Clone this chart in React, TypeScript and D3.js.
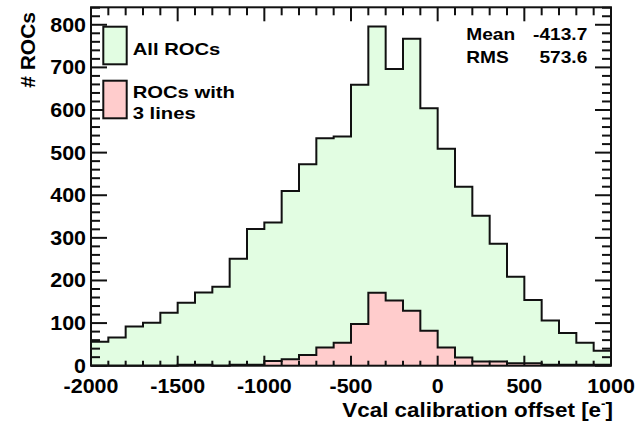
import React from 'react';
import * as d3 from 'd3';

// bin lower edges, width 100
const binEdges = d3.range(-2000, 1000, 100);
const allRocs = [56, 66, 92, 101, 124, 148, 172, 185, 251, 321, 336, 410, 473, 534, 538,
  659, 796, 696, 767, 604, 509, 420, 352, 286, 209, 154, 106, 77, 54, 35];
const rocs3Lines = [0, 0, 0, 0, 0, 2, 2, 0, 2, 2, 11, 15, 25, 43, 54,
  98, 171, 153, 129, 82, 43, 19, 10, 10, 6, 6, 2, 2, 2, 2];
const xMajor = [-2000, -1500, -1000, -500, 0, 500, 1000];
const yMajor = [0, 100, 200, 300, 400, 500, 600, 700, 800];
const stats = [['Mean', '-413.7'], ['RMS', '573.6']];

const W = 638, H = 423;
const frame = {left: 91, right: 611, top: 7.3, bottom: 365.7};
const font = '"Liberation Sans", Arial, Helvetica, sans-serif';

export default function App() {
  const x = d3.scaleLinear().domain([-2000, 1000]).range([frame.left, frame.right]);
  const y = d3.scaleLinear().domain([0, 841]).range([frame.bottom, frame.top]);

  const area = d3.area<[number, number]>()
    .x(d => x(d[0])).y0(y(0)).y1(d => y(d[1])).curve(d3.curveStepAfter);
  const line = d3.line<[number, number]>()
    .x(d => x(d[0])).y(d => y(d[1])).curve(d3.curveStepAfter);

  const hist = (vals: number[], fill: string) => {
    const pts: [number, number][] = binEdges.map((e, i) => [e, vals[i]]);
    pts.push([1000, vals[vals.length - 1]]);
    // close the outline down to zero at both ends
    const outline: [number, number][] = [[-2000, 0], ...pts, [1000, 0]];
    return (
      <g>
        <path d={area(pts) || ''} fill={fill} stroke="none" />
        <path d={line(pts) || ''} fill="none" stroke="#111" strokeWidth={2} />
        <path d={d3.line<[number, number]>().x(d => x(d[0])).y(d => y(d[1]))(outline.slice(0, 2)) || ''}
          stroke="#111" strokeWidth={2} />
        <path d={d3.line<[number, number]>().x(d => x(d[0])).y(d => y(d[1]))(outline.slice(-2)) || ''}
          stroke="#111" strokeWidth={2} />
      </g>
    );
  };

  const xMinor = d3.range(-2000, 1001, 100);
  const yMinor = d3.range(0, 841, 20);

  return (
    <svg width={W} height={H} style={{position: 'absolute', left: 0, top: 0, background: '#fff'}}
      fontFamily={font} fontWeight="bold">
      {hist(allRocs, '#e2fde2')}
      {hist(rocs3Lines, '#ffcccc')}

      {/* ticks */}
      <g stroke="#111" strokeWidth={2}>
        {xMinor.map(v => {
          const maj = v % 500 === 0;
          return (
            <g key={'x' + v}>
              <line x1={x(v)} x2={x(v)} y1={frame.bottom} y2={frame.bottom - (maj ? 10 : 5)} />
              <line x1={x(v)} x2={x(v)} y1={frame.top} y2={frame.top + (maj ? 14 : 8)} />
            </g>
          );
        })}
        {yMinor.map(v => {
          const maj = v % 100 === 0;
          return (
            <g key={'y' + v}>
              <line x1={frame.left} x2={frame.left + (maj ? 16 : 9)} y1={y(v)} y2={y(v)} />
              <line x1={frame.right} x2={frame.right - (maj ? 16 : 9)} y1={y(v)} y2={y(v)} />
            </g>
          );
        })}
      </g>
      <rect x={frame.left} y={frame.top} width={frame.right - frame.left} height={frame.bottom - frame.top}
        fill="none" stroke="#111" strokeWidth={2} />

      {/* tick labels */}
      {xMajor.map(v => (
        <text key={'xl' + v} transform={`translate(${x(v)},392.5) scale(1.1,1)`} textAnchor="middle" fontSize={19.5}>{v}</text>
      ))}
      {yMajor.map(v => (
        <text key={'yl' + v} transform={`translate(86,${y(v) + 7}) scale(1.1,1)`} textAnchor="end" fontSize={19.5}>{v}</text>
      ))}

      {/* axis titles */}
      <text transform="translate(613,416.5) scale(1.12,1)" textAnchor="end" fontSize={20}>
        Vcal calibration offset [e<tspan fontSize={12} dy={-9}>-</tspan><tspan dy={9}>]</tspan>
      </text>
      <text transform="translate(35,12) rotate(-90) scale(1.05,1)" textAnchor="end" fontSize={20}># ROCs</text>

      {/* legend */}
      <rect x={103.3} y={26.7} width={23.4} height={37.6} fill="#e2fde2" stroke="#111" strokeWidth={2} />
      <rect x={103.3} y={80.7} width={23.4} height={37.6} fill="#ffcccc" stroke="#111" strokeWidth={2} />
      <g fontSize={17}>
        <text transform="translate(132.7,55) scale(1.19,1)">All ROCs</text>
        <text transform="translate(132.7,97.7) scale(1.19,1)">ROCs with</text>
        <text transform="translate(132.7,119) scale(1.19,1)">3 lines</text>
      </g>

      {/* stats */}
      <g fontSize={16.5}>
        {stats.map(([k, v], i) => (
          <g key={k}>
            <text transform={`translate(466.3,${40 + i * 23.3}) scale(1.16,1)`}>{k}</text>
            <text transform={`translate(587.3,${40 + i * 23.3}) scale(1.16,1)`} textAnchor="end">{v}</text>
          </g>
        ))}
      </g>
    </svg>
  );
}
